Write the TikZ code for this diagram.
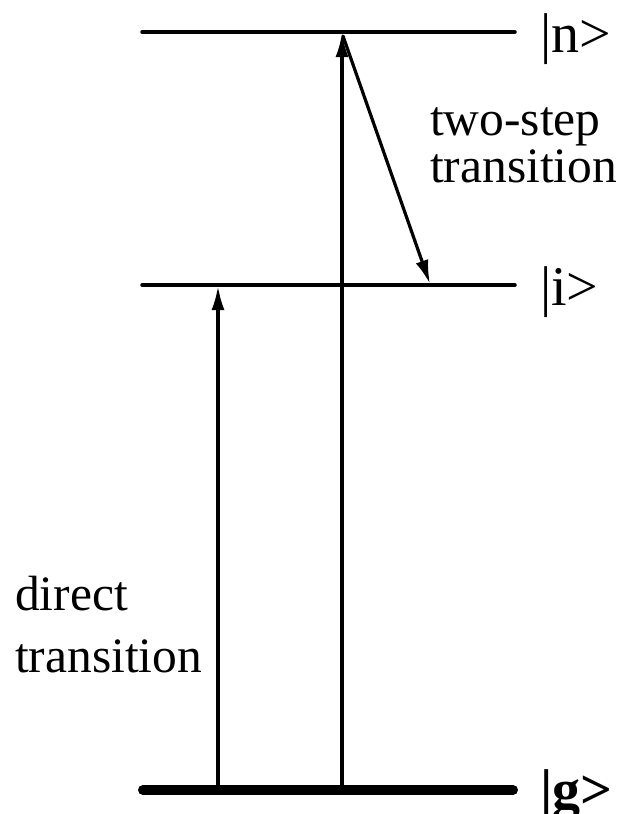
\documentclass[tikz,border=0pt]{standalone}
\usepackage{fontspec}
\setmainfont{Liberation Serif}
\usetikzlibrary{arrows.meta}

\begin{document}
\begin{tikzpicture}[x=1pt, y=-1pt, line cap=round,
    level/.style={line width=3.5pt},
    ground/.style={line width=10pt},
    trans/.style={line width=3.2pt, -{Latex[length=24pt, width=13pt]}},
    ketlabel/.style={anchor=base west, inner sep=0pt, font=\fontsize{56}{60}\selectfont},
    note/.style={anchor=base west, inner sep=0pt, font=\fontsize{49.5}{52}\selectfont}]

    \useasboundingbox (0,0) rectangle (635,814);

    % Levels
    \coordinate (nL) at (142,32);  \coordinate (nR) at (515,32);
    \coordinate (iL) at (142,285); \coordinate (iR) at (515,285);
    \coordinate (gL) at (143,790); \coordinate (gR) at (513,790);
    \draw[level] (nL) -- (nR);
    \draw[level] (iL) -- (iR);
    \draw[ground] (gL) -- (gR);

    % Kets
    \node[ketlabel] (ketn) at (540,52) {|n>};
    \node[ketlabel] (keti) at (540,305) {|i>};
    \node[ketlabel] (ketg) at (540,808) {\bfseries |g>};

    % Transitions
    \coordinate (dirA) at (218,790); \coordinate (dirB) at (218,286);
    \coordinate (upA) at (342,790);  \coordinate (upB) at (342,33);
    \coordinate (downA) at (343,36); \coordinate (downB) at (430,284);
    \draw[trans] (dirA) -- (dirB);
    \draw[trans] (upA) -- (upB);
    \draw[trans] (downA) -- (downB);

    % Notes
    \node[note] (twostep) at (430,135) {two-step};
    \node[note] (twotrans) at (430,182) {transition};
    \node[note] (direct) at (15,610) {direct};
    \node[note] (dirtrans) at (15,672) {transition};

\end{tikzpicture}
\end{document}
